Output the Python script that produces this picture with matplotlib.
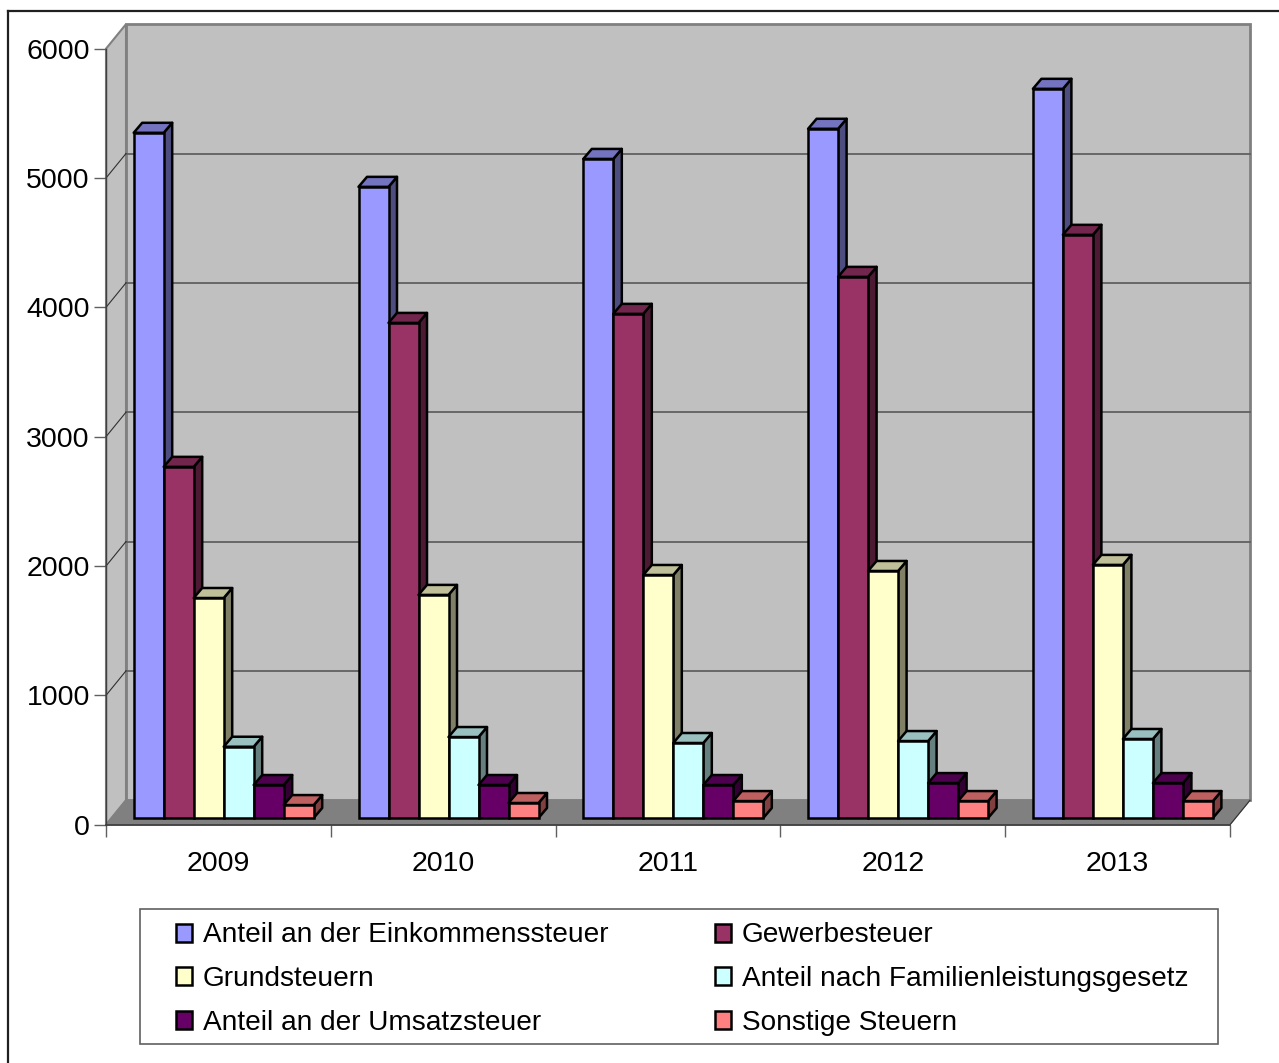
import matplotlib
matplotlib.use("Agg")
import matplotlib.pyplot as plt
from matplotlib.colors import to_rgb
from matplotlib.patches import Patch
from matplotlib.lines import Line2D

plt.rcParams['font.family'] = ['Liberation Sans', 'DejaVu Sans']

years = ['2009', '2010', '2011', '2012', '2013']
einkommen = [5298, 4880, 5096, 5329, 5638]
gewerbe = [2715, 3828, 3898, 4184, 4509]
grund = [1701, 1725, 1879, 1910, 1957]
familien = [551, 626, 580, 595, 611]
umsatz = [255, 255, 255, 270, 270]
sonstige = [100, 116, 131, 131, 131]
names = ['Anteil an der Einkommenssteuer', 'Gewerbesteuer', 'Grundsteuern',
         'Anteil nach Familienleistungsgesetz', 'Anteil an der Umsatzsteuer', 'Sonstige Steuern']
series = [einkommen, gewerbe, grund, familien, umsatz, sonstige]
colors = ['#9999FF', '#993366', '#FFFFCC', '#CCFFFF', '#660066', '#FF8080']
yticks = [0, 1000, 2000, 3000, 4000, 5000, 6000]

W, H = 1279, 1063
fig = plt.figure(figsize=(W / 100, H / 100), dpi=100, facecolor='white')
L, R, Y0, Y6 = 106, 1230, 824.7, 48.7
ax = fig.add_axes([L / W, 1 - Y0 / H, (R - L) / W, (Y0 - Y6) / H])
ax.set_xlim(0, 5)
ax.set_ylim(0, 6000)
ax.patch.set_visible(False)

pxx = 5 / (R - L)
pxy = 6000 / (Y0 - Y6)
wall_dx, wall_dy = 20 * pxx, 24.5 * pxy
bar_w = 30 * pxx
bar_x0 = 27.7 * pxx
bar_base = 6.7 * pxy
depth_x, depth_y = 8.5 * pxx, 10 * pxy

wall_edge = '#808080'
# back wall, side wall, floor
ax.fill([wall_dx, 5 + wall_dx, 5 + wall_dx, wall_dx],
        [wall_dy, wall_dy, 6000 + wall_dy, 6000 + wall_dy],
        fc='#C0C0C0', ec=wall_edge, lw=2, clip_on=False, zorder=1)
ax.fill([0, wall_dx, wall_dx, 0], [0, wall_dy, 6000 + wall_dy, 6000],
        fc='#C0C0C0', ec=wall_edge, lw=1.5, clip_on=False, zorder=1)
ax.fill([0, 5, 5 + wall_dx, wall_dx], [0, 0, wall_dy, wall_dy],
        fc='#808080', ec=wall_edge, lw=1, clip_on=False, zorder=1.5)
ax.plot([5, 5 + wall_dx], [0, wall_dy], color='#333333', lw=0.8, clip_on=False, zorder=1.6)

# gridlines
for t in yticks[1:]:
    if t < 6000:
        ax.plot([wall_dx, 5 + wall_dx], [t + wall_dy, t + wall_dy], color='#606060', lw=1.3,
                clip_on=False, zorder=2)
        ax.plot([0, wall_dx], [t, t + wall_dy], color='#303030', lw=0.8, clip_on=False, zorder=2)


def shade(c, f):
    return tuple(v * f for v in to_rgb(c))


# 3D bars: each bar's front covers the side of the bar to its left
for c in range(len(years)):
    for s in range(len(series)):
        v = series[s][c]
        x0 = c + bar_x0 + s * bar_w
        x1 = x0 + bar_w
        b = bar_base
        t = bar_base + v
        z = 3 + s * 0.01
        ax.fill([x1, x1 + depth_x, x1 + depth_x, x1], [b, b + depth_y, t + depth_y, t],
                fc=shade(colors[s], 0.5), ec='black', lw=1.8, clip_on=False, zorder=z,
                joinstyle='round')
        ax.fill([x0, x0 + depth_x, x1 + depth_x, x1], [t, t + depth_y, t + depth_y, t],
                fc=shade(colors[s], 0.75), ec='black', lw=1.8, clip_on=False, zorder=z,
                joinstyle='round')
        ax.bar(x0, v, bottom=b, width=bar_w, align='edge', color=colors[s], edgecolor='black',
               linewidth=1.8, clip_on=False, zorder=z + 0.001)

# axes
for sp in ('top', 'right'):
    ax.spines[sp].set_visible(False)
ax.spines['left'].set_color('#404040')
ax.spines['left'].set_linewidth(1.0)
ax.spines['left'].set_zorder(2.5)
ax.spines['bottom'].set_color('#404040')
ax.spines['bottom'].set_linewidth(1.3)
ax.spines['bottom'].set_zorder(2.5)
ax.set_yticks(yticks)
ax.set_yticklabels([str(t) for t in yticks])
ax.set_xticks(range(6))
ax.set_xticklabels([])
ax.set_xticks([i + 0.5 for i in range(5)], minor=True)
ax.set_xticklabels(years, minor=True)
ax.tick_params(axis='y', length=8.6, width=1.0, color='#606060', labelsize=20.5, pad=3, labelcolor='black')
ax.tick_params(axis='x', which='major', length=8.6, width=1.0, color='#606060')
ax.tick_params(axis='x', which='minor', length=0, labelsize=20.5, pad=19, labelcolor='black')

# legend box, behind the axes that hold the legend
fig.add_artist(plt.Rectangle((139.5 / W, 1 - 1044 / H), (1217.7 - 139.5) / W, (1044 - 909) / H,
                             transform=fig.transFigure, fc='white', ec='#606060', lw=1.2,
                             zorder=-1))

# legend (row-first order in the reference)
handles = [Patch(facecolor=col, edgecolor='black', linewidth=1.8) for col in colors]
order = [0, 2, 4, 1, 3, 5]
leg = ax.legend([handles[i] for i in order], [names[i] for i in order], ncol=2,
                loc='upper left', bbox_to_anchor=(175.5 / W, 1 - 922.5 / H),
                bbox_transform=fig.transFigure, fontsize=20.2, frameon=False, borderaxespad=0,
                handlelength=0.6, handleheight=0.6, handletextpad=0.38, labelspacing=0.63,
                columnspacing=3.78, borderpad=0)
leg.set_zorder(10)

# outer border: left and top only, running off the image
fig.add_artist(Line2D([7.7 / W, 7.7 / W], [0, 1 - 10.8 / H], transform=fig.transFigure,
                      color='#202020', lw=1.6, solid_capstyle='projecting'))
fig.add_artist(Line2D([7.7 / W, 1], [1 - 10.8 / H, 1 - 10.8 / H], transform=fig.transFigure,
                      color='#202020', lw=1.6, solid_capstyle='projecting'))

fig.savefig('out.png', dpi=100, facecolor='white')
